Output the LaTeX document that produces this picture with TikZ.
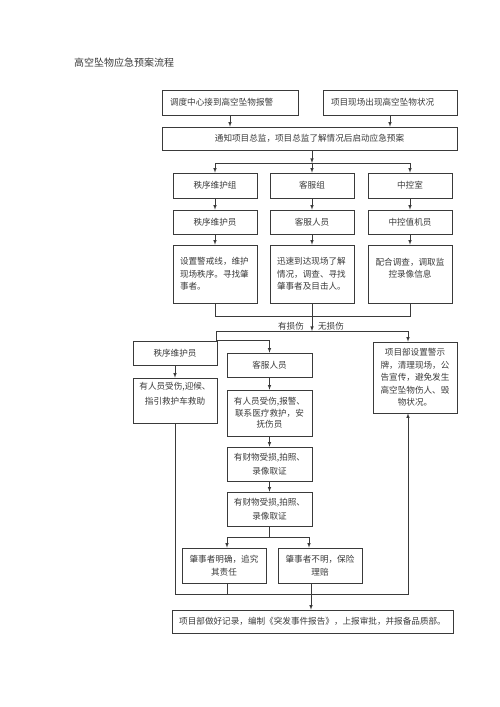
\documentclass[tikz,border=0pt]{standalone}
\usepackage{fontspec}
\setmainfont{Noto Sans CJK SC}
\usetikzlibrary{arrows}
\usepackage{xcolor}
\definecolor{ln}{HTML}{3A3A3A}

\begin{document}
\begin{tikzpicture}[x=1pt,y=-1pt,
	box/.style={draw=ln,line width=0.6pt,text=ln,align=center,inner sep=2pt,font=\fontsize{8.6}{12.5}\selectfont},
	con/.style={draw=ln,line width=0.6pt},
	arr/.style={con,-latex},
	lab/.style={text=ln,inner sep=0pt,font=\fontsize{8.6}{10}\selectfont}]
		\useasboundingbox (0,0) rectangle (500,707);
		\node [text=ln,anchor=west,inner sep=0pt,font=\fontsize{10}{12}\selectfont] (v0) at (74,63) {高空坠物应急预案流程};
		% top
		\node [box,align=left,text width=120,inner xsep=8,minimum height=25] (v1) at (230,102.5) {调度中心接到高空坠物报警};
		\node [box,align=left,text width=118,inner xsep=8,minimum height=25] (v2) at (390,102.5) {项目现场出现高空坠物状况};
		\node [box,minimum width=295,minimum height=23] (v3) at (309.5,138.5) {通知项目总监，项目总监了解情况后启动应急预案};
		\draw [arr] (v1.south) -- (v1.south |- v3.north);
		\draw [arr] (v2.south) -- (v2.south |- v3.north);
		% three groups
		\node [box,minimum width=84,minimum height=25] (v4) at (215,185.5) {秩序维护组};
		\node [box,minimum width=84,minimum height=25] (v5) at (312,185.5) {客服组};
		\node [box,minimum width=84,minimum height=25] (v6) at (410,185.5) {中控室};
		\node [box,minimum width=84,minimum height=24] (v7) at (215,222) {秩序维护员};
		\node [box,minimum width=84,minimum height=24] (v8) at (312,222) {客服人员};
		\node [box,minimum width=84,minimum height=24] (v9) at (410,222) {中控值机员};
		\node [box,align=left,text width=70,inner xsep=7,minimum height=58] (v10) at (215,274) {设置警戒线，维护\\现场秩序。寻找肇\\事者。};
		\node [box,align=left,text width=70,inner xsep=7,minimum height=58] (v11) at (312,274) {迅速到达现场了解\\情况，调查、寻找\\肇事者及目击人。};
		\node [box,text width=70,inner xsep=7,minimum height=58] (v12) at (410,274) {配合调查，调取监\\控录像信息\\~};
		\coordinate (c1) at (312,163);
		\draw [arr] (v3.south -| c1) -- (c1);
		\draw [con] (v4.north |- c1) -- (v6.north |- c1);
		\draw [arr] (v4.north |- c1) -- (v4.north);
		\draw [arr] (c1) -- (v5.north);
		\draw [arr] (v6.north |- c1) -- (v6.north);
		\draw [arr] (v4) -- (v7);
		\draw [arr] (v5) -- (v8);
		\draw [arr] (v6) -- (v9);
		\draw [arr] (v7) -- (v10);
		\draw [arr] (v8) -- (v11);
		\draw [arr] (v9) -- (v12);
		\coordinate (c2) at (312,316);
		\draw [con] (v10.south) |- (v12.south |- c2) -- (v12.south);
		\draw [con] (v11.south) -- (c2);
		\coordinate (c3) at (312,331);
		\draw [arr] (c2) -- (c3);
		\node [lab] (v13) at (291,326) {有损伤};
		\node [lab] (v14) at (331,326) {无损伤};
		% branches
		\node [box,text width=72,inner xsep=6,minimum height=71] (v15) at (415,377.5) {项目部设置警示\\牌，清理现场，公\\告宣传，避免发生\\高空坠物伤人、毁\\物状况。};
		\node [box,minimum width=84,minimum height=24] (v16) at (175,353) {秩序维护员};
		\node [box,minimum width=85,minimum height=24] (v17) at (269.5,365) {客服人员};
		\coordinate (c4) at (216,331);
		\coordinate (c5) at (408,331);
		\draw [con] (c4) -- (c5);
		\draw [arr] (c5) -- (c5 |- v15.north);
		\draw [arr] (c4) |- (v17.north |- v16.north) -- (v17.north);
		\node [box,text width=72,inner xsep=6,minimum height=45,font=\fontsize{8.6}{15}\selectfont] (v18) at (175,400.5) {有人员受伤,迎候、\\指引救护车救助\\~};
		\draw [arr] (v16) -- (v18);
		\node [box,text width=73,inner xsep=6,minimum height=46,font=\fontsize{8.6}{11.5}\selectfont] (v19) at (269.5,413) {有人员受伤,报警、\\联系医疗救护，安\\抚伤员};
		\node [box,text width=73,inner xsep=6,minimum height=34,font=\fontsize{8.6}{13.5}\selectfont] (v20) at (269.5,464) {有财物受损,拍照、\\录像取证};
		\node [box,text width=73,inner xsep=6,minimum height=34,font=\fontsize{8.6}{13.5}\selectfont] (v21) at (269.5,509) {有财物受损,拍照、\\录像取证};
		\draw [arr] (v17) -- (v19);
		\draw [arr] (v19) -- (v20);
		\draw [arr] (v20) -- (v21);
		% responsibility
		\node [box,text width=72,inner xsep=6,minimum height=35] (v22) at (224,565.5) {肇事者明确，追究\\其责任};
		\node [box,text width=72,inner xsep=6,minimum height=35] (v23) at (320,565.5) {肇事者不明，保险\\理赔};
		\coordinate (c6) at (269.5,537);
		\coordinate (c7) at (227,537);
		\coordinate (c8) at (309,537);
		\draw [con] (v21) -- (c6);
		\draw [con] (c7) -- (c8);
		\draw [arr] (c7) -- (c7 |- v22.north);
		\draw [arr] (c8) -- (c8 |- v23.north);
		\node [box,minimum width=281,minimum height=23] (v24) at (312.5,621.5) {项目部做好记录，编制《突发事件报告》，上报审批，并报备品质部。};
		\coordinate (c9) at (408,594);
		\coordinate (c10) at (311,594);
		\draw [arr] (v18.south) |- (c9) -- (c9 |- v15.south);
		\draw [con] (v22.south -| c7) -- (c7 |- c9);
		\draw [arr] (v23.south -| c10) -- (c10 |- v24.north);
\end{tikzpicture}
\end{document}
